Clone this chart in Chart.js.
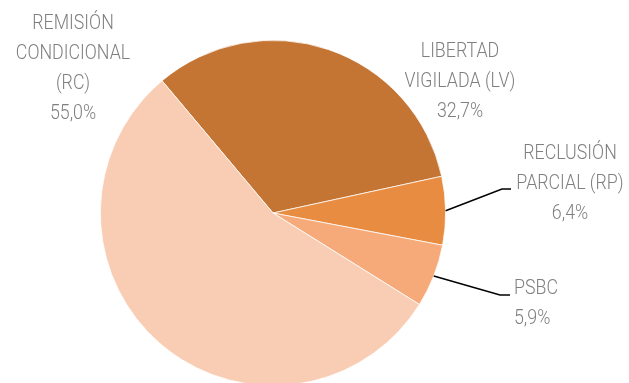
<!DOCTYPE html>
<html>
<head>
<meta charset="utf-8">
<script src="https://cdn.jsdelivr.net/npm/chart.js@4/dist/chart.umd.min.js"></script>
<style>
  html, body { margin: 0; padding: 0; background: #fff; overflow: hidden; }
  #wrap { width: 629px; height: 383px; overflow: hidden; }
</style>
</head>
<body>
<div id="wrap"><canvas id="c" width="629" height="400"></canvas></div>
<script>
// Medidas por tipo de sanción (porcentaje)
const categories = ['LIBERTAD VIGILADA (LV)', 'RECLUSIÓN PARCIAL (RP)', 'PSBC', 'REMISIÓN CONDICIONAL (RC)'];
const labelLines = [
  ['LIBERTAD', 'VIGILADA (LV)'],
  ['RECLUSIÓN', 'PARCIAL (RP)'],
  ['PSBC'],
  ['REMISIÓN', 'CONDICIONAL', '(RC)']
];
const shares = [32.7, 6.4, 5.9, 55.0];
const colors = ['#C47534', '#E88C41', '#F7AA79', '#F8CDB4'];

const FONT = '300 20px "Roboto", sans-serif';
const TEXT = '#7F7F7F';
const SQUEEZE = 0.89; // condensed lettering

// Label placement: x, first line centre y, alignment, optional leader elbow
const labelPos = [
  { x: 460, y: 52, align: 'center' },
  { x: 570, y: 154, align: 'center', elbow: [502, 189, 511] },
  { x: 514, y: 289, align: 'left', elbow: [500, 295, 510] },
  { x: 73, y: 24, align: 'center' }
];

const fmt = v => v.toFixed(1).replace('.', ',') + '%';

const pieLabels = {
  id: 'pieLabels',
  afterDraw(chart) {
    const ctx = chart.ctx;
    const meta = chart.getDatasetMeta(0);
    meta.data.forEach((arc, i) => {
      const p = labelPos[i];
      ctx.save();
      if (p.elbow) {
        const mid = (arc.startAngle + arc.endAngle) / 2;
        const sx = arc.x + Math.cos(mid) * arc.outerRadius;
        const sy = arc.y + Math.sin(mid) * arc.outerRadius;
        ctx.strokeStyle = '#000';
        ctx.lineWidth = 1.5;
        ctx.beginPath();
        ctx.moveTo(sx, sy);
        ctx.lineTo(p.elbow[0], p.elbow[1]);
        ctx.lineTo(p.elbow[2], p.elbow[1]);
        ctx.stroke();
      }
      ctx.font = FONT;
      ctx.fillStyle = TEXT;
      ctx.textBaseline = 'middle';
      ctx.textAlign = p.align;
      ctx.translate(p.x, 0);
      ctx.scale(SQUEEZE, 1);
      const lines = labelLines[i].concat([fmt(shares[i])]);
      lines.forEach((t, k) => ctx.fillText(t, 0, p.y + k * 30));
      ctx.restore();
    });
  }
};

new Chart(document.getElementById('c'), {
  type: 'pie',
  data: {
    labels: categories,
    datasets: [{
      data: shares,
      backgroundColor: colors,
      borderColor: '#ffffff',
      borderWidth: 0.75
    }]
  },
  options: {
    responsive: false,
    animation: false,
    rotation: -40,
    layout: { padding: { left: 100, right: 183, top: 40, bottom: 14 } },
    plugins: { legend: { display: false }, tooltip: { enabled: false } }
  },
  plugins: [pieLabels]
});
</script>
</body>
</html>
